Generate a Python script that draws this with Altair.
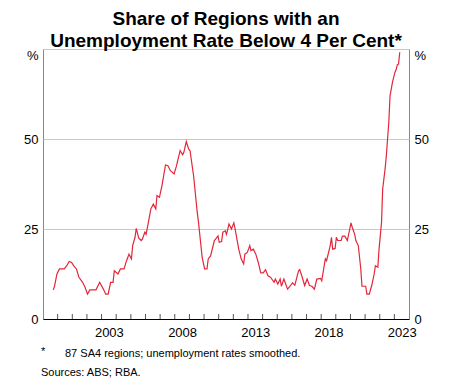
import altair as alt
import pandas as pd

dates = [
    "1999-09", "1999-10", "1999-12", "2000-02", "2000-06", "2000-08", "2000-10", "2000-12",
    "2001-02", "2001-04", "2001-06", "2001-09", "2001-11", "2002-01", "2002-03", "2002-08",
    "2002-11", "2003-02", "2003-04", "2003-06", "2003-08", "2003-10", "2003-11", "2004-02",
    "2004-04", "2004-07", "2004-09", "2004-11", "2005-01", "2005-02", "2005-04", "2005-05",
    "2005-07", "2005-09", "2005-10", "2005-12", "2006-01", "2006-03", "2006-05", "2006-07",
    "2006-09", "2006-10", "2006-12", "2007-02", "2007-05", "2007-07", "2007-09", "2007-12",
    "2008-02", "2008-03", "2008-05", "2008-07", "2008-08", "2008-10", "2008-12", "2009-01",
    "2009-04", "2009-07", "2009-08", "2009-10", "2009-11", "2010-01", "2010-03", "2010-04",
    "2010-06", "2010-09", "2010-10", "2010-12", "2011-01", "2011-03", "2011-04", "2011-06",
    "2011-07", "2011-09", "2011-11", "2012-01", "2012-02", "2012-04", "2012-05", "2012-07",
    "2012-09", "2012-10", "2012-12", "2013-02", "2013-03", "2013-05", "2013-07", "2013-09",
    "2013-11", "2014-01", "2014-03", "2014-05", "2014-07", "2014-10", "2014-11", "2015-01",
    "2015-03", "2015-04", "2015-06", "2015-07", "2015-09", "2015-11", "2016-01", "2016-03",
    "2016-06", "2016-07", "2016-09", "2016-11", "2017-01", "2017-03", "2017-05", "2017-07",
    "2017-09", "2017-12", "2018-01", "2018-04", "2018-05", "2018-08", "2018-09", "2018-10",
    "2018-12", "2019-01", "2019-02", "2019-05", "2019-06", "2019-08", "2019-10", "2019-12",
    "2020-01", "2020-02", "2020-04", "2020-05", "2020-07", "2020-09", "2020-10", "2021-01",
    "2021-02", "2021-04", "2021-06", "2021-08", "2021-09", "2021-11", "2021-12", "2022-02",
    "2022-03", "2022-05", "2022-06", "2022-07", "2022-08", "2022-09", "2022-11", "2023-01",
    "2023-02", "2023-03", "2023-04", "2023-05",
]
values = [
    8.1, 9.1, 12.5, 13.9, 13.9, 14.8, 16.0, 15.7,
    14.6, 13.9, 11.6, 10.2, 8.8, 6.9, 8.1, 8.1,
    10.2, 8.3, 6.9, 6.9, 10.2, 10.2, 13.4, 12.5,
    13.9, 13.9, 16.2, 18.0, 16.7, 20.4, 22.7, 25.2,
    22.5, 21.8, 22.2, 24.1, 23.5, 26.9, 30.6, 31.9,
    30.6, 34.3, 33.8, 37.0, 42.8, 42.6, 41.2, 40.3,
    42.6, 44.0, 46.8, 45.6, 46.3, 49.3, 47.2, 46.8,
    39.8, 29.6, 26.9, 20.4, 17.1, 13.9, 13.9, 16.7,
    17.6, 21.8, 22.2, 23.1, 21.3, 21.5, 24.1, 24.5,
    23.5, 26.4, 25.0, 26.7, 25.0, 21.3, 19.4, 16.7,
    15.3, 18.0, 18.5, 20.4, 19.0, 19.4, 18.0, 15.7,
    12.8, 12.8, 13.7, 12.0, 11.6, 10.2, 11.1, 9.7,
    11.1, 9.1, 11.1, 10.2, 8.3, 9.1, 10.0, 9.4,
    13.4, 13.7, 11.6, 9.3, 11.1, 9.3, 9.1, 8.3,
    11.1, 11.3, 10.6, 16.7, 16.2, 20.4, 22.7, 19.4,
    19.6, 22.7, 21.8, 21.8, 23.0, 23.0, 21.8, 25.0,
    26.7, 25.5, 23.6, 21.8, 20.4, 13.9, 9.1, 9.1,
    6.9, 6.9, 9.3, 12.5, 14.8, 14.4, 19.4, 26.9,
    36.1, 41.7, 45.4, 50.0, 54.6, 62.0, 65.8, 68.5,
    69.3, 70.6, 70.8, 74.1,
]
tick_years = list(range(2000, 2024))
label_years = [2003, 2008, 2013, 2018, 2023]
y_ticks = [0, 25, 50, 75]
title_lines = ["Share of Regions with an", "Unemployment Rate Below 4 Per Cent*"]
footnote = "87 SA4 regions; unemployment rates smoothed."
sources = "Sources: ABS; RBA."

df = pd.DataFrame({"date": [d + "-15" for d in dates], "value": values})
ticks_df = pd.DataFrame({"date": [f"{y}-01-01" for y in tick_years]})
one = pd.DataFrame({"k": [0]})

W, H = 366, 270
FONT = "Liberation Sans"
RED = "#e3263a"

x_scale = alt.Scale(
    type="utc",
    domain=[alt.DateTime(year=1999, month=1, date=1, utc=True),
            alt.DateTime(year=2024, month=1, date=1, utc=True)],
)
y_scale = alt.Scale(domain=[0, 75], nice=False)

x_axis = alt.Axis(
    values=[alt.DateTime(year=y, month=7, date=2, utc=True) for y in label_years],
    labelExpr="utcFormat(datum.value, '%Y')",
    ticks=False, grid=False, title=None,
    domainColor="#000", domainWidth=1,
    labelFont=FONT, labelFontSize=13, labelColor="#000", labelPadding=7,
    labelFlush=False,
)

def y_axis(orient, grid):
    return alt.Axis(
        values=y_ticks, orient=orient,
        labelExpr="datum.value == 75 ? '%' : datum.label",
        labelBaseline={"condition": {"test": "datum.value == 75", "value": "top"}, "value": "middle"},
        ticks=False, domain=False, grid=grid, gridColor="#c8c8c8", gridWidth=1,
        labelFont=FONT, labelFontSize=13, labelColor="#000", labelPadding=5,
        title=None,
    )

line = alt.Chart(df).mark_line(color=RED, strokeWidth=1.2).encode(
    x=alt.X("date:T", scale=x_scale, axis=x_axis),
    y=alt.Y("value:Q", scale=y_scale, axis=y_axis("left", True)),
)
line_r = alt.Chart(df).mark_line(color=RED, strokeWidth=1.2, strokeOpacity=0).encode(
    x=alt.X("date:T", scale=x_scale),
    y=alt.Y("value:Q", scale=y_scale, axis=y_axis("right", False)),
)
year_ticks = alt.Chart(ticks_df).mark_rule(color="#555", strokeWidth=1).encode(
    x=alt.X("date:T", scale=x_scale),
    y=alt.value(H - 5),
    y2=alt.value(H),
)

txt = alt.Chart(one).mark_text(align="left", baseline="middle", font=FONT, fontSize=11, color="#000")
star = txt.encode(x=alt.value(-2), y=alt.value(303), text=alt.value("*"))
note = txt.encode(x=alt.value(22), y=alt.value(305), text=alt.value(footnote))
src = txt.encode(x=alt.value(-2), y=alt.value(324), text=alt.value(sources))

chart = alt.layer(year_ticks, line, line_r, star, note, src).resolve_scale(
    y="independent"
).properties(
    width=W, height=H,
    title=alt.TitleParams(
        text=title_lines, font=FONT, fontSize=19, fontWeight="bold",
        lineHeight=22, anchor="middle", color="#000", offset=-2,
    ),
    padding={"left": 15, "top": 2, "right": 5, "bottom": 0},
).configure_view(stroke="#888", strokeWidth=1)

chart.save("out.html", embed_options={"renderer": "svg", "actions": False})
